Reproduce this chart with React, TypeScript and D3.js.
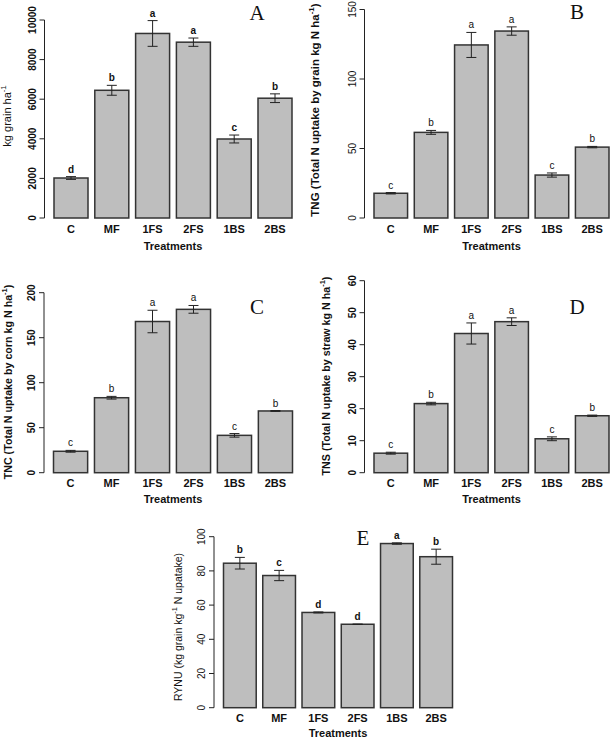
import React from "react";
import * as d3 from "d3";

const categories = ["C", "MF", "1FS", "2FS", "1BS", "2BS"];

const grainYield = [2020, 6450, 9320, 8880, 3990, 6050];
const grainYieldErr = [70, 250, 650, 210, 200, 220];
const grainLetters = ["d", "b", "a", "a", "c", "b"];
const grainTicks = [0, 2000, 4000, 6000, 8000, 10000];

const tngValues = [17.8, 61.6, 124.5, 134.5, 30.9, 51.0];
const tngErr = [0.5, 1.4, 9, 3, 1.5, 0.5];
const tngLetters = ["c", "b", "a", "a", "c", "b"];
const tngTicks = [0, 50, 100, 150];

const tncValues = [23.8, 83.3, 168, 181.5, 41.5, 68.6];
const tncErr = [1, 1.5, 12.5, 4.3, 2, 0.5];
const tncLetters = ["c", "b", "a", "a", "c", "b"];
const tncTicks = [0, 50, 100, 150, 200];

const tnsValues = [6.1, 21.6, 43.5, 47.2, 10.6, 17.8];
const tnsErr = [0.3, 0.4, 3.3, 1.2, 0.6, 0.2];
const tnsLetters = ["c", "b", "a", "a", "c", "b"];
const tnsTicks = [0, 10, 20, 30, 40, 50, 60];

const rynuValues = [84.5, 77.3, 55.7, 48.8, 96.0, 88.3];
const rynuErr = [3.4, 3.0, 0.3, 0.1, 0.4, 4.4];
const rynuLetters = ["b", "c", "d", "d", "a", "b"];
const rynuTicks = [0, 20, 40, 60, 80, 100];

const SANS = "'Liberation Sans', Arial, Helvetica, sans-serif";
const SERIF = "'Liberation Serif', 'Times New Roman', serif";

type PanelProps = {
  values: number[];
  errs: number[];
  letters: string[];
  ticks: number[];
  barsLeft: number;
  barsRight: number;
  axisX: number;
  y0: number;
  yTop: number;
  title: string;
  titleSuffix: string;
  titleX: number;
  titleY: number;
  titleSize: number;
  titleBold: boolean;
  tickBold: boolean;
  letterBold: boolean;
  panelLabel: string;
  labelX: number;
  labelY: number;
  xTitleOffset: number;
};

function Panel(p: PanelProps) {
  const unit = (p.barsRight - p.barsLeft) / 7;
  const x = d3
    .scaleBand<string>()
    .domain(categories)
    .range([p.barsLeft - 0.1 * unit, p.barsRight + 0.1 * unit])
    .paddingInner(1 / 6)
    .paddingOuter(1 / 12);
  const y = d3
    .scaleLinear()
    .domain([0, p.ticks[p.ticks.length - 1]])
    .range([p.y0, p.yTop]);
  const bw = x.bandwidth();
  return (
    <g>
      <line
        x1={p.axisX}
        x2={p.axisX}
        y1={y(p.ticks[0])}
        y2={y(p.ticks[p.ticks.length - 1])}
        stroke="#222"
        strokeWidth={1}
      />
      {p.ticks.map((t) => (
        <g key={t}>
          <line x1={p.axisX - 5} x2={p.axisX} y1={y(t)} y2={y(t)} stroke="#222" strokeWidth={1} />
          <text
            transform={`translate(${p.axisX - 9},${y(t)}) rotate(-90)`}
            textAnchor="middle"
            fontFamily={SANS}
            fontSize={10}
            fontWeight={p.tickBold ? "bold" : "normal"}
            fill="#111"
          >
            {t}
          </text>
        </g>
      ))}
      {categories.map((c, i) => {
        const bx = x(c) as number;
        const cx = bx + bw / 2;
        const top = y(p.values[i]);
        const eTop = y(p.values[i] + p.errs[i]);
        const eBot = y(p.values[i] - p.errs[i]);
        return (
          <g key={c}>
            <rect
              x={bx}
              y={top}
              width={bw}
              height={p.y0 - top}
              fill="#bebebe"
              stroke="#333"
              strokeWidth={1.5}
            />
            <line x1={cx} x2={cx} y1={eTop} y2={eBot} stroke="#222" strokeWidth={1} />
            <line x1={cx - 5} x2={cx + 5} y1={eTop} y2={eTop} stroke="#222" strokeWidth={1} />
            <line x1={cx - 5} x2={cx + 5} y1={eBot} y2={eBot} stroke="#222" strokeWidth={1} />
            <text
              x={cx}
              y={eTop - 4}
              textAnchor="middle"
              fontFamily={SANS}
              fontSize={10}
              fontWeight={p.letterBold ? "bold" : "normal"}
              fill="#111"
            >
              {p.letters[i]}
            </text>
            <text
              x={cx}
              y={p.y0 + 14.5}
              textAnchor="middle"
              fontFamily={SANS}
              fontSize={11}
              fontWeight="bold"
              fill="#111"
            >
              {c}
            </text>
          </g>
        );
      })}
      <text
        x={(p.barsLeft + p.barsRight) / 2}
        y={p.y0 + p.xTitleOffset}
        textAnchor="middle"
        fontFamily={SANS}
        fontSize={11}
        fontWeight="bold"
        fill="#111"
      >
        Treatments
      </text>
      <text
        transform={`translate(${p.titleX + 3.5},${p.titleY}) rotate(-90)`}
        textAnchor="middle"
        fontFamily={SANS}
        fontSize={p.titleSize}
        fontWeight={p.titleBold ? "bold" : "normal"}
        fill="#111"
      >
        {p.title}
        <tspan fontSize={p.titleSize * 0.7} dy={-5}>
          -1
        </tspan>
        <tspan dy={5}>{p.titleSuffix}</tspan>
      </text>
      <text
        x={p.labelX}
        y={p.labelY + 7}
        textAnchor="middle"
        fontFamily={SERIF}
        fontSize={21}
        fill="#111"
      >
        {p.panelLabel}
      </text>
    </g>
  );
}

export default function App() {
  return (
    <svg
      width={610}
      height={739}
      style={{ position: "absolute", left: 0, top: 0, background: "#fff" }}
    >
      <Panel
        values={grainYield}
        errs={grainYieldErr}
        letters={grainLetters}
        ticks={grainTicks}
        barsLeft={54}
        barsRight={292}
        axisX={44.5}
        y0={218}
        yTop={20}
        title="kg grain ha"
        titleSuffix=""
        titleX={7}
        titleY={116}
        titleSize={11}
        titleBold={false}
        tickBold={true}
        letterBold={true}
        panelLabel="A"
        labelX={257}
        labelY={13}
        xTitleOffset={32}
      />
      <Panel
        values={tngValues}
        errs={tngErr}
        letters={tngLetters}
        ticks={tngTicks}
        barsLeft={374}
        barsRight={609}
        axisX={364.5}
        y0={218}
        yTop={9.5}
        title="TNG (Total N uptake by grain kg N ha"
        titleSuffix=")"
        titleX={315}
        titleY={110}
        titleSize={11.5}
        titleBold={true}
        tickBold={false}
        letterBold={false}
        panelLabel="B"
        labelX={577}
        labelY={12}
        xTitleOffset={32}
      />
      <Panel
        values={tncValues}
        errs={tncErr}
        letters={tncLetters}
        ticks={tncTicks}
        barsLeft={53.5}
        barsRight={292.5}
        axisX={44}
        y0={472.7}
        yTop={292.7}
        title="TNC (Total N uptake by corn kg N ha"
        titleSuffix=")"
        titleX={8}
        titleY={382}
        titleSize={10.7}
        titleBold={true}
        tickBold={true}
        letterBold={false}
        panelLabel="C"
        labelX={257}
        labelY={307}
        xTitleOffset={30.5}
      />
      <Panel
        values={tnsValues}
        errs={tnsErr}
        letters={tnsLetters}
        ticks={tnsTicks}
        barsLeft={374}
        barsRight={609}
        axisX={364.5}
        y0={472.7}
        yTop={280.7}
        title="TNS (Total N uptake by straw kg N ha"
        titleSuffix=")"
        titleX={326.5}
        titleY={376}
        titleSize={10.7}
        titleBold={true}
        tickBold={true}
        letterBold={false}
        panelLabel="D"
        labelX={577}
        labelY={307}
        xTitleOffset={30.5}
      />
      <Panel
        values={rynuValues}
        errs={rynuErr}
        letters={rynuLetters}
        ticks={rynuTicks}
        barsLeft={223.5}
        barsRight={452.5}
        axisX={214}
        y0={707.7}
        yTop={536.7}
        title="RYNU (kg grain kg"
        titleSuffix=" N upatake)"
        titleX={178}
        titleY={627}
        titleSize={10.5}
        titleBold={false}
        tickBold={false}
        letterBold={true}
        panelLabel="E"
        labelX={363}
        labelY={538}
        xTitleOffset={29.3}
      />
    </svg>
  );
}
